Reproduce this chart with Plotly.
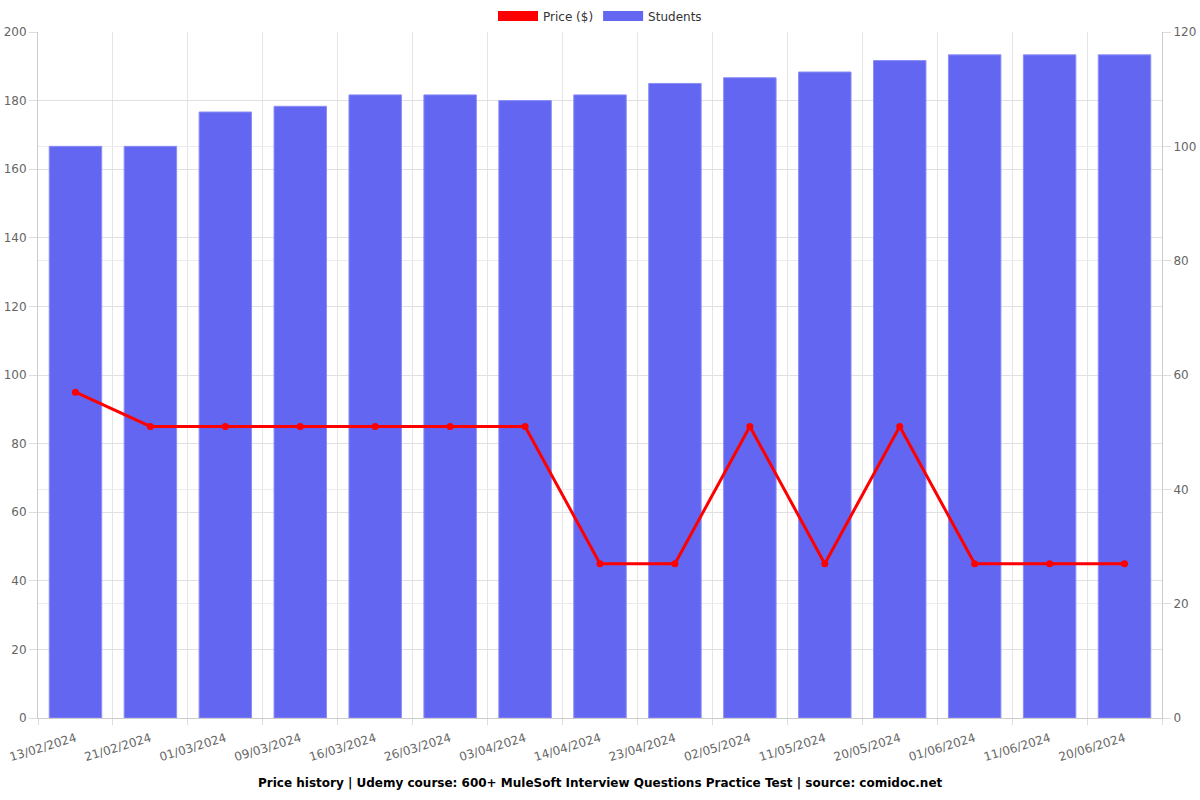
import plotly.graph_objects as go

dates = ["13/02/2024", "21/02/2024", "01/03/2024", "09/03/2024", "16/03/2024",
         "26/03/2024", "03/04/2024", "14/04/2024", "23/04/2024", "02/05/2024",
         "11/05/2024", "20/05/2024", "01/06/2024", "11/06/2024", "20/06/2024"]
price = [94.99, 84.99, 84.99, 84.99, 84.99, 84.99, 84.99, 44.99, 44.99, 84.99,
         44.99, 84.99, 44.99, 44.99, 44.99]
students = [100, 100, 106, 107, 109, 109, 108, 109, 111, 112, 113, 115, 116, 116, 116]

RED = "#ff0000"
BLUE = "#6366f1"
FONT = "DejaVu Sans"

fig = go.Figure()

# Students on the (right-side) primary axis so price draws on top
fig.add_trace(go.Bar(
    x=dates, y=students, name="Students", yaxis="y",
    marker=dict(color=BLUE, line=dict(color="#8b8df5", width=1)),
    showlegend=False,
))
fig.add_trace(go.Scatter(
    x=dates, y=price, name="Price ($)", mode="lines+markers", yaxis="y2",
    line=dict(color=RED, width=3), marker=dict(color=RED, size=7),
    showlegend=False,
))
# legend swatches (box style)
fig.add_trace(go.Scatter(x=[None], y=[None], name="Price ($)", mode="lines",
                         line=dict(color=RED, width=14), yaxis="y2", showlegend=True))
fig.add_trace(go.Scatter(x=[None], y=[None], name="Students", mode="lines",
                         line=dict(color=BLUE, width=14), showlegend=True))

fig.update_layout(
    width=1200, height=800,
    margin=dict(l=38, r=38, t=32, b=82),
    paper_bgcolor="white", plot_bgcolor="white",
    font=dict(family=FONT, size=12, color="#666"),
    bargap=0.3,
    legend=dict(orientation="h", x=0.5, xanchor="center",
                yref="container", y=1 - 16 / 800, yanchor="middle",
                font=dict(family=FONT, size=12, color="#333"),
                itemwidth=40, traceorder="normal"),
    xaxis=dict(type="category", tickangle=-17, tickson="boundaries",
               showgrid=True, gridcolor="#e5e5e5", ticks="outside", ticklen=6,
               tickcolor="#ddd", linecolor="#ccc", showline=True, automargin=False,
               ticklabelstandoff=8,
               tickfont=dict(family=FONT, size=12, color="#666"),
               range=[-0.5, 14.5]),
    yaxis=dict(range=[0, 120], dtick=20, side="right", showgrid=True, gridcolor="#ececec",
               ticks="outside", ticklen=8, tickcolor="#ddd", automargin=False,
               showline=True, linecolor="#ccc", zeroline=False,
               tickfont=dict(family=FONT, size=12, color="#666")),
    yaxis2=dict(range=[0, 200], dtick=20, overlaying="y", side="left",
                showgrid=True, gridcolor="#e0e0e0", ticks="outside", ticklen=8,
                tickcolor="#ddd", showline=True, linecolor="#ccc", zeroline=False,
                automargin=False,
                tickfont=dict(family=FONT, size=12, color="#666")),
    annotations=[dict(
        text="<b>Price history | Udemy course: 600+ MuleSoft Interview Questions Practice Test | source: comidoc.net</b>",
        xref="paper", yref="paper", x=0.5, y=0, yshift=-65, showarrow=False,
        xanchor="center", yanchor="middle",
        font=dict(family=FONT, size=12, color="#000"))],
)

fig.write_html("out.html")
